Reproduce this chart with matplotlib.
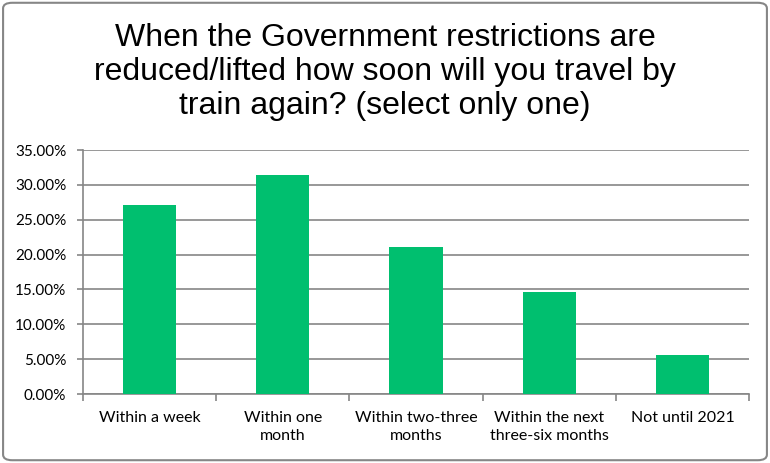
import numpy as np
import matplotlib.pyplot as plt
from matplotlib.patches import FancyBboxPatch
from matplotlib.ticker import FuncFormatter, FixedLocator

categories = ["Within a week", "Within one\nmonth", "Within two-three\nmonths",
              "Within the next\nthree-six months", "Not until 2021"]
shares = [27.1, 31.4, 21.1, 14.7, 5.55]
y_ticks = [0, 5, 10, 15, 20, 25, 30, 35]

title = ("When the Government restrictions are\n"
         "reduced/lifted how soon will you travel by\n"
         "train again? (select only one)")

plt.rcParams['font.family'] = ['Lato', 'DejaVu Sans']
grey = '#868686'

fig = plt.figure(figsize=(7.7, 4.63), dpi=100)
ax = fig.add_axes([0.1078, 0.149, 0.865, 0.527])

x = np.arange(len(categories))
ax.bar(x, shares, width=0.4, color='#00BF6F', zorder=3)

ax.set_xlim(-0.5, len(categories) - 0.5)
ax.set_ylim(0, 35)
ax.set_yticks(y_ticks)
ax.yaxis.set_major_formatter(FuncFormatter(lambda v, p: f"{v:.2f}%"))
ax.yaxis.grid(True, color=grey, linewidth=1.2, zorder=0)

# category labels centred, tick marks between categories
ax.set_xticks(x)
ax.set_xticklabels(categories, fontsize=11.5, linespacing=1.35)
ax.tick_params(axis='x', length=0, pad=12)
ax.xaxis.set_minor_locator(FixedLocator(np.arange(-0.5, len(categories), 1)))
ax.tick_params(axis='x', which='minor', length=5, color=grey, width=1.2)
ax.tick_params(axis='y', length=4, color=grey, width=1.2, labelsize=11, pad=8)

for side in ['top', 'right']:
    ax.spines[side].set_visible(False)
for side in ['left', 'bottom']:
    ax.spines[side].set_color(grey)
    ax.spines[side].set_linewidth(1.2)

fig.text(0.5, 0.845, title, ha='center', va='center', fontsize=23,
         family=['Liberation Sans', 'DejaVu Sans'], linespacing=1.17)

border = FancyBboxPatch((0.004, 0.006), 0.992, 0.988,
                        boxstyle="round,pad=0,rounding_size=0.012",
                        transform=fig.transFigure, fill=False,
                        edgecolor=grey, linewidth=1.5)
fig.patches.append(border)

fig.savefig('out.png', dpi=100)
